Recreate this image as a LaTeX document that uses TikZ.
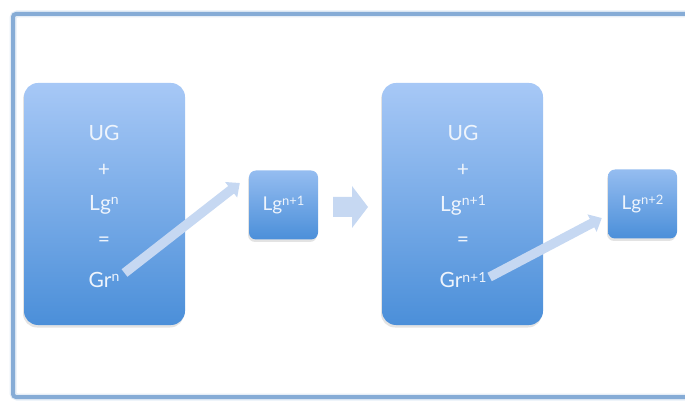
\documentclass[tikz,border=0pt]{standalone}
\usepackage{fontspec}
\setmainfont{Lato}
\usetikzlibrary{arrows.meta,shadows}
\definecolor{frameblue}{HTML}{86ACD6}
\definecolor{boxtop}{HTML}{A7C8F6}
\definecolor{boxbot}{HTML}{4B8FD9}
\definecolor{arrowblue}{HTML}{C6D8F2}
\definecolor{txtcol}{HTML}{EEF4FC}
\newcommand{\supx}[1]{\raisebox{0.55ex}{\fontsize{14}{15}\selectfont #1}}
\newcommand{\supy}[1]{\raisebox{0.55ex}{\fontsize{13}{14}\selectfont #1}}
\begin{document}
\begin{tikzpicture}[x=1pt,y=-1pt,
  boxshadow/.style={drop shadow={opacity=0.18, shadow xshift=-1pt, shadow yshift=-2.5pt, fill=black!60}},
  bigbox/.style={rounded corners=14pt, top color=boxtop, bottom color=boxbot, draw=none,
    minimum width=161pt, minimum height=242pt, inner sep=0pt, boxshadow},
  smallbox/.style={rounded corners=7pt, top color=boxtop!80!boxbot, bottom color=boxbot, draw=none,
    minimum width=69pt, minimum height=69pt, inner sep=0pt, boxshadow,
    text=txtcol, font=\fontsize{19}{21}\selectfont},
  label/.style={text=txtcol, font=\fontsize{21}{23}\selectfont, inner sep=1pt},
  bigarrow/.style={draw=arrowblue, line width=9.5pt,
    -{Triangle[length=11pt, width=19pt]}}
]
\useasboundingbox (0,0) rectangle (685,403);
% frame
\draw[frameblue!60, line width=7pt, opacity=0.35, rounded corners=4pt] (720,14) -- (13,14) -- (13,397) -- (720,397);
\draw[frameblue, line width=4pt, rounded corners=3pt] (720,14) -- (13,14) -- (13,397) -- (720,397);

% left group
\node[bigbox] (big1) at (104.5,204) {};
\node[label] (ug1) at (104,133) {UG};
\node[label] (plus1) at (104,170) {+};
\node[label] (lg1t) at (104,205) {Lg\supx{n}};
\node[label] (eq1) at (104,242) {=};
\node[label] (gr1) at (104,280) {Gr\supx{n}};
\node[smallbox] (lg1) at (283.5,205) {Lg\supy{n+1}};

% middle arrow
\coordinate (mid) at (350,207);
\fill[arrowblue] (333,197) -- (352,197) -- (352,186) -- (368,207) -- (352,228) -- (352,217) -- (333,217) -- cycle;

% right group
\node[bigbox] (big2) at (462.5,204) {};
\node[label] (ug2) at (463,133) {UG};
\node[label] (plus2) at (463,170) {+};
\node[label] (lg2t) at (463,205) {Lg\supx{n+1}};
\node[label] (eq2) at (463,242) {=};
\node[label] (gr2) at (463,280) {Gr\supx{n+1}};
\node[smallbox] (lg2) at (642.5,204) {Lg\supy{n+2}};

% diagonal arrows
\draw[bigarrow] ([shift={(4pt,7pt)}]gr1.east) -- ([shift={(-9pt,22pt)}]lg1.west);
\draw[bigarrow] ([shift={(2pt,3pt)}]gr2.east) -- ([shift={(-6pt,-14pt)}]lg2.west);
\end{tikzpicture}
\end{document}
